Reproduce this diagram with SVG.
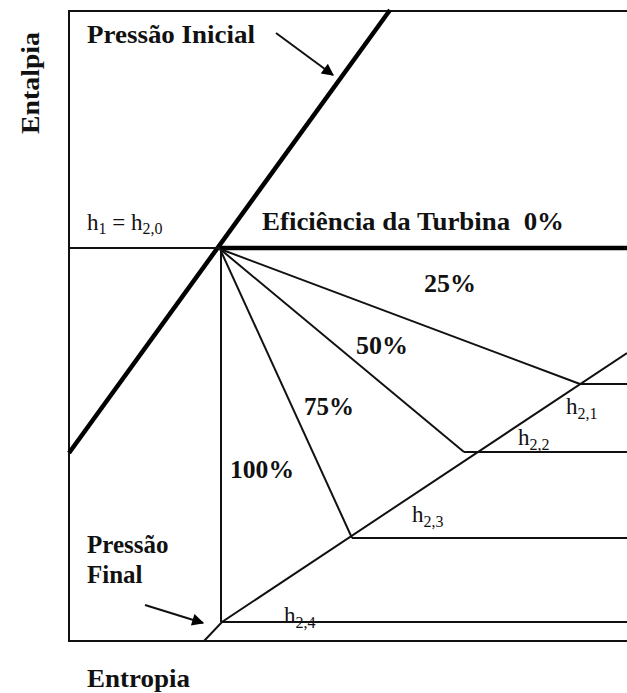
<svg xmlns="http://www.w3.org/2000/svg" width="627" height="693" viewBox="0 0 627 693">
<style>
.b{font-family:"Liberation Serif","Times New Roman",serif;font-weight:bold;font-size:25px;fill:#111}
.n{font-family:"Liberation Serif","Times New Roman",serif;font-size:23px;fill:#111}
.s{font-size:16px}
.thin{stroke:#111;stroke-width:2;fill:none}
.thick{stroke:#000;stroke-width:4.5;fill:none}
</style>
<defs>
<marker id="ah" viewBox="0 0 10 10" refX="9" refY="5" markerWidth="17" markerHeight="12" orient="auto" markerUnits="userSpaceOnUse">
<path d="M0,0 L10,5 L0,10 z" fill="#000"/>
</marker>
</defs>
<rect width="627" height="693" fill="#fff"/>
<g id="frame">
<polyline class="thin" points="627,11 69,11 69,641 627,641" stroke="#333"/>
</g>
<g id="connectors">
<line class="thick" x1="390" y1="10" x2="69" y2="453"/>
<line class="thin" x1="69" y1="248" x2="220" y2="248" stroke-width="1.5"/>
<line class="thick" x1="220" y1="248" x2="627" y2="248" stroke-width="3.5"/>
<line class="thin" x1="220" y1="249" x2="580" y2="384" stroke-width="2.5"/>
<line class="thin" x1="220" y1="249" x2="464" y2="452" stroke-width="2.5"/>
<line class="thin" x1="220" y1="249" x2="352" y2="538" stroke-width="2.5"/>
<line class="thin" x1="221" y1="249" x2="221" y2="622"/>
<polyline class="thin" points="204,641 222,622 627,353" stroke-width="2.2"/>
<line class="thin" x1="580" y1="384" x2="627" y2="384" stroke-width="1.6"/>
<line class="thin" x1="464" y1="452" x2="627" y2="452" stroke-width="1.6"/>
<line class="thin" x1="352" y1="538" x2="627" y2="538" stroke-width="1.6"/>
<line class="thin" x1="221" y1="622" x2="627" y2="622" stroke-width="1.6"/>
<line class="thin" x1="276" y1="33" x2="333" y2="75" marker-end="url(#ah)"/>
<line class="thin" x1="145" y1="605" x2="203" y2="623" marker-end="url(#ah)"/>
</g>
<g id="labels">
<text class="b" transform="translate(39,134) rotate(-90)" font-size="27" textLength="102" lengthAdjust="spacingAndGlyphs">Entalpia</text>
<text class="b" x="87" y="43" textLength="168" lengthAdjust="spacingAndGlyphs">Pressão Inicial</text>
<text class="n" x="87" y="230">h<tspan class="s" dy="4">1</tspan><tspan dy="-4"> = h</tspan><tspan class="s" dy="4">2,0</tspan></text>
<text class="b" x="262" y="230" xml:space="preserve" textLength="302" lengthAdjust="spacingAndGlyphs">Eficiência da Turbina  0%</text>
<text class="b" x="424" y="292" textLength="52" lengthAdjust="spacingAndGlyphs">25%</text>
<text class="b" x="356" y="354" textLength="52" lengthAdjust="spacingAndGlyphs">50%</text>
<text class="b" x="304" y="415" textLength="50" lengthAdjust="spacingAndGlyphs">75%</text>
<text class="b" x="230" y="478" textLength="64" lengthAdjust="spacingAndGlyphs">100%</text>
<text class="n" x="566" y="414">h<tspan class="s" dy="5">2,1</tspan></text>
<text class="n" x="518" y="445">h<tspan class="s" dy="5">2,2</tspan></text>
<text class="n" x="412" y="522">h<tspan class="s" dy="5">2,3</tspan></text>
<text class="n" x="284" y="623">h<tspan class="s" dy="5">2,4</tspan></text>
<text class="b" x="87" y="553">Pressão</text>
<text class="b" x="87" y="583">Final</text>
<text class="b" x="87" y="687" textLength="103" lengthAdjust="spacingAndGlyphs">Entropia</text>
</g>
</svg>
